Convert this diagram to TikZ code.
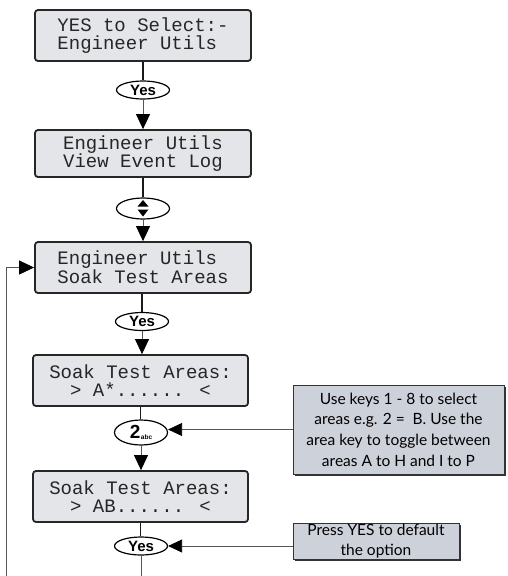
\documentclass[tikz,border=0pt]{standalone}
\usepackage{fontspec}
\usetikzlibrary{arrows.meta,shapes.geometric,shadows,calc}
\newfontfamily\lcdfont{Liberation Mono}
\newfontfamily\notefont{Lato}
\newfontfamily\keyfont{Liberation Sans}
\definecolor{lcdfill}{HTML}{E4E5E8}
\definecolor{notefill}{HTML}{CDD2DA}
\definecolor{linegray}{HTML}{555555}
\begin{document}
\begin{tikzpicture}[x=1pt,y=-1pt,
  lcd/.style={draw=black!85, line width=1.8pt, fill=lcdfill, rounded corners=3pt,
    minimum width=216pt, minimum height=51pt, inner sep=0pt, align=left,
    text=black!85, font=\lcdfont\fontsize{19}{17.5}\selectfont},
  lcdc/.style={lcd, align=center},
  keyov/.style={ellipse, draw=black, line width=1.2pt, fill=white, inner sep=0pt,
    minimum width=53pt, minimum height=18pt, font=\keyfont\bfseries\fontsize{15}{15}\selectfont},
  note/.style={draw=black!80, line width=0.9pt, fill=notefill, inner sep=0pt, align=center,
    drop shadow={shadow xshift=1.8pt, shadow yshift=-1.8pt, fill=black!80, opacity=1},
    font=\notefont\fontsize{15.5}{20.7}\selectfont},
  thick link/.style={draw=black!90, line width=1.8pt},
  thin link/.style={draw=linegray, line width=0.8pt},
  arr/.style={thin link, -{Triangle[length=15pt,width=14pt,color=black]}},
  harr/.style={thin link, -{Triangle[length=14pt,width=13pt,color=black]}}
]
\useasboundingbox (0,0) rectangle (507,576);

% LCD boxes
\node[lcd] (b1) at (143,35.5) {YES to Select:-\\Engineer Utils};
\node[lcd, minimum height=47pt] (b2) at (143,153.5) {Engineer Utils\\View Event Log};
\node[lcd] (b3) at (143,267.5) {Engineer Utils\\Soak Test Areas};
\node[lcdc, minimum width=215pt] (b4) at (140.5,380.5) {Soak Test Areas:\\ > A*...... < };
\node[lcdc, minimum width=215pt] (b5) at (140.5,496.5) {Soak Test Areas:\\ > AB...... < };

% key ovals
\node[keyov] (k1) at (143,90) {Yes};
\node[keyov, minimum height=21pt] (k2) at (143,208.5) {};
\fill (137.5,206.5) -- (148.5,206.5) -- (143,200) -- cycle;
\fill (137.5,209.5) -- (148.5,209.5) -- (143,216.5) -- cycle;
\node[keyov] (k3) at (142,321.5) {Yes};
\node[keyov, minimum height=25pt] (k4) at (141,432.5) {{\fontsize{19}{19}\selectfont 2}\hspace{0.5pt}\raisebox{-0.5pt}{\fontsize{6.5}{6.5}\selectfont abc}};
\node[keyov] (k5) at (141,546) {Yes};

% notes
\node[note, minimum width=211pt, minimum height=89pt] (n1) at (398.5,429.5)
  {Use keys 1 - 8 to select\\areas e.g. 2 = \ B. Use the\\area key to toggle between\\areas A to H and I to P};
\node[note, minimum width=166pt, minimum height=36pt] (n2) at (376,541)
  {Press YES to default\\the option};

\coordinate (bottomA) at (141,576);
\coordinate (bottomL) at (6,576);

% main flow
\draw[thick link] (b1.south) -- (b1.south |- k1.north);
\draw[arr] (k1.south) -- (k1.south |- b2.north);
\draw[thick link] (b2.south) -- (b2.south |- k2.north);
\draw[arr] (k2.south) -- (k2.south |- b3.north);
\draw[thick link] (k3.north |- b3.south) -- (k3.north);
\draw[arr] (k3.south) -- (k3.south |- b4.north);
\draw[thick link] (b4.south) -- (b4.south |- k4.north);
\draw[arr] (k4.south) -- (k4.south |- b5.north);
\draw[thick link] (b5.south) -- (b5.south |- k5.north);
\draw[thin link] (k5.south) -- (bottomA);

% loop back
\draw[arr] (bottomL) |- (b3.west);

% notes to keys
\draw[harr] (n1.west) -- (k4.east |- n1.west);
\draw[harr] (n2.west |- k5.east) -- (k5.east);
\end{tikzpicture}
\end{document}
